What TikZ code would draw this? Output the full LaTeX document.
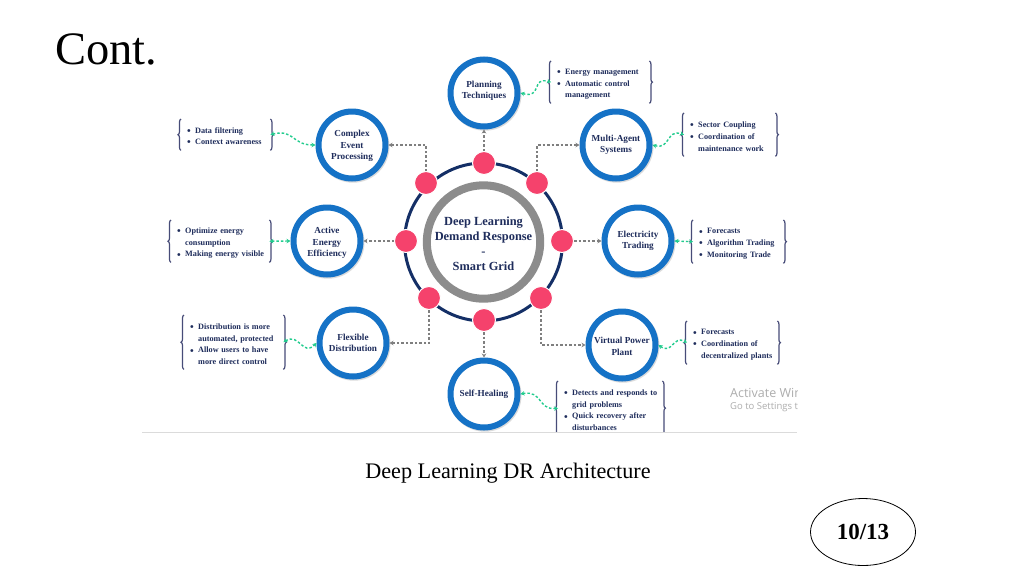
\documentclass[tikz,border=0pt]{standalone}
\usepackage{fontspec}
\setmainfont{Liberation Serif}
\newfontfamily\wmfont{Open Sans}
\usetikzlibrary{decorations.pathreplacing,shadows,arrows.meta,shapes.geometric}
\definecolor{ringblue}{HTML}{1572C6}
\definecolor{navytext}{HTML}{1F2D5C}
\definecolor{navyring}{HTML}{142F66}
\definecolor{greyring}{HTML}{8C8C8C}
\definecolor{dotpink}{HTML}{F5426C}
\definecolor{greenlink}{HTML}{22CC8E}
\definecolor{greylink}{HTML}{7F7F7F}
\definecolor{bracecol}{HTML}{474C78}
\tikzset{
  hub/.style={circle,draw=ringblue,line width=6pt,fill=white,minimum size=67pt,inner sep=0pt,
    align=center,text=navytext,font=\bfseries\fontsize{9.2}{11.5}\selectfont,
    copy shadow={shadow xshift=1pt,shadow yshift=-1.2pt,draw=black!14,fill=black!14,line width=6pt}},
  dot/.style={circle,fill=dotpink,draw=white,line width=1pt,minimum size=23pt,inner sep=0pt},
  listbox/.style={inner xsep=6pt,inner ysep=0pt,align=left,text=navytext,
    font=\bfseries\fontsize{8.2}{11.7}\selectfont},
  bracket/.style={draw=bracecol,line width=1.2pt,decorate,decoration={brace,amplitude=3pt}},
  greylk/.style={draw=greylink,line width=1.2pt,dash pattern=on 2.5pt off 2pt,
    -{Stealth[length=4pt,width=4.5pt,fill=greylink]}},
  greenlk/.style={draw=greenlink,line width=1.4pt,dash pattern=on 2.5pt off 2pt,
    {Stealth[length=4pt,width=4.5pt,fill=greenlink]}-{Stealth[length=4pt,width=4.5pt,fill=greenlink]}},
}
\newcommand{\lstnode}[6]{%
  \node[listbox,anchor=north west,minimum width=#4pt,minimum height=#5pt,text width=#4pt-12pt]
    (#1) at (#2,#3) {\rule{0pt}{9.6pt}#6};}
\newcommand{\bitem}[1]{\mbox{\makebox[8pt][l]{\raisebox{-1.2pt}{\fontsize{10.5}{10.5}\selectfont •}}#1}}
\newcommand{\bcont}[1]{\mbox{\hspace*{8pt}#1}}
\newcommand{\bracepair}[1]{%
  \draw[bracket] (#1.south west) -- (#1.north west);
  \draw[bracket] (#1.north east) -- (#1.south east);}
\begin{document}
\begin{tikzpicture}[x=1pt,y=-1pt]
\useasboundingbox (0,0) rectangle (1024,576);
\fill[white] (0,0) rectangle (1024,576);

% title, caption, page badge
\node[anchor=base west,inner sep=0pt,font=\fontsize{46.5}{50}\selectfont] (title) at (55,64) {Cont.};
\node[inner sep=0pt,font=\fontsize{22.2}{25}\selectfont] (caption) at (508,473) {Deep Learning DR Architecture};
\node[ellipse,draw=black,line width=0.8pt,minimum width=105pt,minimum height=67pt,inner sep=0pt,
  font=\bfseries\fontsize{23}{26}\selectfont] (badge) at (863,532) {10/13};

% centre
\coordinate (centre) at (483.5,242);
\draw[navyring,line width=3pt] (centre) circle[radius=79pt];
\node[circle,draw=greyring,line width=8pt,fill=white,minimum size=112pt,inner sep=0pt,align=center,
  text=navytext,font=\bfseries\fontsize{12.4}{15}\selectfont] (core) at (centre)
  {\rule{0pt}{13pt}Deep Learning\\Demand Response\\-\\Smart Grid};

\node[dot] (d1) at (484,163) {};
\node[dot] (d2) at (537,183) {};
\node[dot] (d3) at (562,241) {};
\node[dot] (d4) at (541,298) {};
\node[dot] (d5) at (484,320) {};
\node[dot] (d6) at (429,298) {};
\node[dot] (d7) at (406,241) {};
\node[dot] (d8) at (426,183) {};

% outer hubs
\node[hub] (plan) at (484,93) {Planning\\Techniques\rule[-6pt]{0pt}{0pt}};
\node[hub] (multi) at (616,145) {Multi-Agent\\Systems};
\node[hub] (elec) at (638,241) {Electricity\\Trading};
\node[hub] (virt) at (622,345) {\rule{0pt}{9pt}Virtual Power\\Plant};
\node[hub] (heal) at (484,394) {Self-Healing};
\node[hub] (flex) at (353,343) {Flexible\\Distribution};
\node[hub] (active) at (327,241) {\rule{0pt}{10pt}Active\\Energy\\Efficiency};
\node[hub] (cep) at (352,145) {\rule{0pt}{8.5pt}Complex\\Event\\Processing};

% grey connectors
\draw[greylk] (d1.north) -- (plan.south);
\draw[greylk] (d2.north) |- (multi.west);
\draw[greylk] (d3.east) -- (elec.west);
\draw[greylk] (d4.south) |- (virt.west);
\draw[greylk] (d5.south) -- (heal.north);
\draw[greylk] (d6.south) |- (flex.east);
\draw[greylk] (d7.west) -- (active.east);
\draw[greylk] (d8.north) |- (cep.east);

% lists
\lstnode{lplan}{551}{61}{98}{42}{\bitem{Energy management}\\\bitem{Automatic control}\\\bcont{management}}
\lstnode{lmulti}{684}{113}{91}{43}{\bitem{Sector Coupling}\\\bitem{Coordination of}\\\bcont{maintenance work}}
\lstnode{lelec}{693}{220}{90}{43}{\bitem{Forecasts}\\\bitem{Algorithm Trading}\\\bitem{Monitoring Trade}}
\lstnode{lcep}{181}{119}{89}{31}{\bitem{Data filtering}\\\bitem{Context awareness}}
\lstnode{lactive}{171}{220}{98}{42}{\bitem{Optimize energy}\\\bcont{consumption}\\\bitem{Making energy visible}}
\lstnode{lflex}{184}{315}{99}{54}{\bitem{Distribution is more}\\\bcont{automated, protected}\\\bitem{Allow users to have}\\\bcont{more direct control}}
\lstnode{lvirt}{687}{321}{90}{43}{\bitem{Forecasts}\\\bitem{Coordination of}\\\bcont{decentralized plants}}
\lstnode{lheal}{558}{381}{104}{54}{\bitem{Detects and responds to}\\\bcont{grid problems}\\\bitem{Quick recovery after}\\\bcont{disturbances}}

\bracepair{lplan}
\bracepair{lmulti}
\bracepair{lelec}
\bracepair{lcep}
\bracepair{lactive}
\bracepair{lflex}
\bracepair{lvirt}
\begin{scope}
  \clip (540,370) rectangle (680,432);
  \bracepair{lheal}
\end{scope}

% green connectors
\draw[greenlk] (plan.east) .. controls +(22,6) and +(-20,-6) .. (lplan.west);
\draw[greenlk] (multi.east) .. controls +(18,5) and +(-18,-6) .. (lmulti.west);
\draw[greenlk] (elec.east) -- (lelec.west);
\draw[greenlk] (lcep.east) .. controls +(24,-6) and +(-24,0) .. (cep.west);
\draw[greenlk] (lactive.east) -- (active.west);
\draw[greenlk] (lflex.east) .. controls +(16,-10) and +(-14,14) .. (flex.west);
\draw[greenlk] (virt.east) .. controls +(14,10) and +(-14,-8) .. (lvirt.west);
\draw[greenlk] (heal.east) .. controls +(22,-4) and +(-20,2) .. (lheal.west);

% image lower edge and watermark
\coordinate (ruleL) at (142,432);
\coordinate (ruleR) at (797,432);
\draw[black!14,line width=0.8pt] (ruleL) -- (ruleR);
\begin{scope}
  \clip (700,380) rectangle (797,420);
  \node[anchor=west,inner sep=0pt,text=black!32,font=\wmfont\fontsize{12.5}{14}\selectfont] (wm1) at (730,393) {Activate Windows};
  \node[anchor=west,inner sep=0pt,text=black!32,font=\wmfont\fontsize{9.5}{11}\selectfont] (wm2) at (730,407.5) {Go to Settings to activate};
\end{scope}
\end{tikzpicture}
\end{document}
